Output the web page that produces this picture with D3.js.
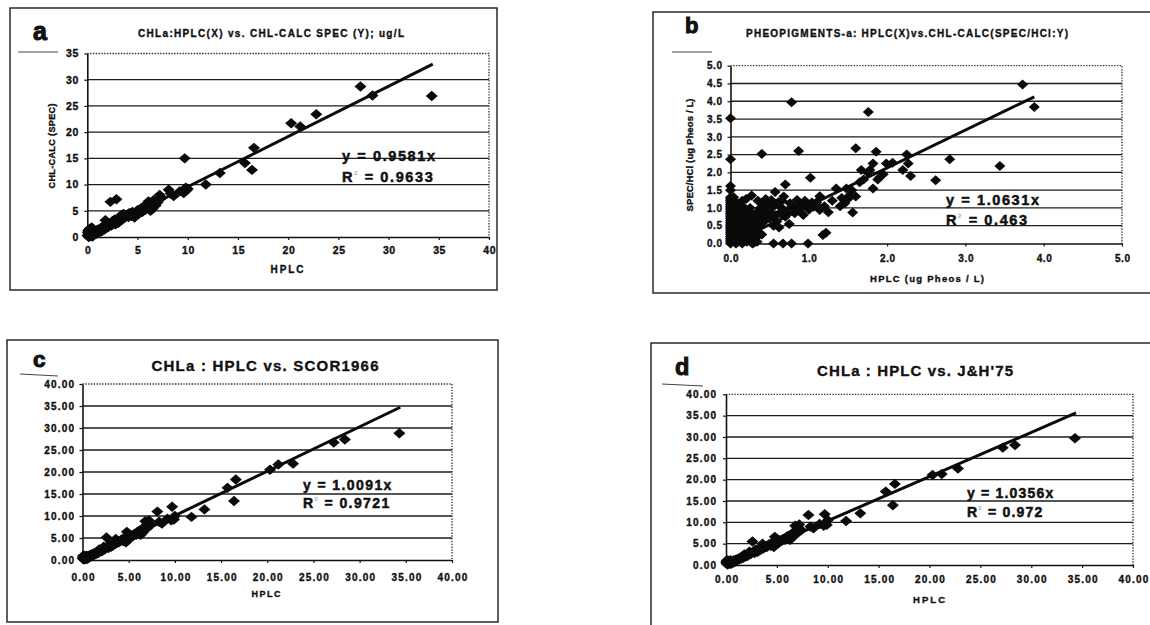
<!DOCTYPE html>
<html><head><meta charset="utf-8">
<script src="https://cdn.jsdelivr.net/npm/d3@7"></script>
<style>
body{margin:0;background:#fff;}
svg{display:block;}
text{font-family:"Liberation Sans",Arial,sans-serif;font-weight:bold;fill:#111;stroke:#111;stroke-width:0.35px;}
</style></head><body>
<script>
// ---------- DATA ----------
// Chlorophyll-a samples: HPLC (x) shared by panels a, c, d
const chlaHPLC = [
 0.02,0.05,0.08,0.10,0.12,0.15,0.20,0.25,0.30,0.35,
 0.40,0.45,0.50,0.55,0.60,0.70,0.75,0.80,0.90,1.00,
 1.05,1.10,1.20,1.30,1.40,1.50,1.60,1.70,1.80,1.90,
 2.00,2.10,2.20,2.30,2.40,2.50,2.60,2.70,2.80,2.90,
 3.00,3.10,3.20,3.30,3.40,3.50,3.60,3.70,3.80,4.00,
 4.10,4.20,4.40,4.50,4.70,4.80,4.90,5.00,5.20,5.30,
 5.50,5.60,5.80,5.90,6.00,6.10,6.30,6.40,6.50,6.60,
 6.80,7.00,7.20,7.40,8.10,8.30,8.60,9.20,9.60,9.70,
 9.80,9.90,10.0,11.8,13.2,15.7,16.4,16.6,20.3,21.2,
 22.8,27.2,28.4,34.3
];
// panel a: CHL-CALC (SPEC)
const chlaSPEC = [
 0.3,0.9,0.2,1.3,0.5,0.0,0.7,1.6,0.2,1.0,
 0.4,1.8,0.1,0.8,0.3,1.2,0.5,0.9,0.6,1.4,
 0.8,1.1,1.5,1.0,1.8,1.2,2.0,1.4,3.2,1.7,
 2.3,1.9,2.6,6.7,2.2,3.0,2.5,3.3,2.4,7.2,
 3.5,2.7,3.8,3.1,4.2,3.4,4.4,3.6,4.1,4.3,
 3.8,4.6,4.0,4.8,3.7,4.6,4.3,5.1,4.5,5.4,
 4.8,5.8,5.2,6.3,5.6,6.8,5.0,6.4,5.4,7.0,
 6.0,6.6,8.0,7.5,9.0,8.3,7.8,8.7,8.4,15.0,
 9.4,8.9,9.2,10.0,12.2,14.1,12.8,17.0,21.7,21.1,
 23.4,28.7,27.0,26.9
];
// panel c: SCOR1966
const chlaSCOR = [
 0.4,0.8,0.3,1.0,0.5,0.1,0.6,0.9,0.2,0.6,
 0.3,1.0,0.3,0.7,0.4,1.0,0.6,1.1,0.8,1.3,
 0.9,1.2,1.5,1.2,1.6,1.4,1.9,1.6,2.4,2.0,
 2.2,2.0,2.6,3.0,2.4,2.8,5.1,3.0,2.7,3.5,
 3.2,3.0,3.7,3.3,3.9,3.6,4.8,3.8,4.2,4.1,
 4.4,4.6,4.3,5.0,4.0,6.4,4.8,5.3,5.0,5.6,
 5.5,5.9,5.7,6.3,6.0,6.6,5.7,6.9,6.2,7.4,
 8.8,7.2,9.0,8.0,11.0,8.7,8.3,9.4,9.0,12.1,
 9.6,9.2,10.0,9.8,11.5,16.4,13.4,18.3,20.5,21.7,
 21.9,26.7,27.4,28.8
];
// panel d: J&H'75
const chlaJH = [
 0.5,0.9,0.3,1.1,0.6,0.1,0.7,1.0,0.3,0.6,
 0.4,1.1,0.3,0.7,0.5,1.0,0.6,1.1,0.8,1.3,
 1.0,1.2,1.5,1.3,1.7,1.5,2.0,1.7,2.5,2.0,
 2.3,2.1,2.7,3.1,2.5,2.9,5.5,3.1,2.8,3.6,
 3.3,3.1,3.8,3.4,4.0,3.7,5.0,3.9,4.3,4.2,
 4.5,4.8,4.5,5.2,4.2,6.6,5.0,5.5,5.2,5.8,
 5.7,6.1,5.9,6.5,6.2,6.8,5.9,7.1,6.4,7.6,
 9.2,7.4,9.5,8.2,11.7,9.0,8.6,9.6,9.2,11.9,
 9.9,9.4,10.5,10.3,12.1,17.2,14.0,19.0,21.1,21.3,
 22.6,27.5,28.1,29.7
];
// panel b: pheopigments [HPLC, SPEC/HCl]
const pheoPoints = [
 [0,0],[0,0.05],[0,0.1],[0,0.15],[0,0.2],[0,0.25],[0,0.3],[0,0.35],[0,0.4],[0,0.45],
 [0,0.5],[0,0.55],[0,0.6],[0,0.65],[0,0.7],[0,0.75],[0,0.8],[0,0.85],[0,0.9],[0,0.95],
 [0,1.0],[0,1.05],[0,1.1],[0,1.15],[0,1.2],[0,1.25],[0,1.3],[0,1.5],[0,1.62],[0,2.37],[0,3.52],
 [0.03,0.10],[0.03,0.50],[0.03,0.90],[0.05,0.30],[0.05,0.70],[0.05,1.10],[0.07,0.00],[0.07,0.45],
 [0.07,0.85],[0.08,0.20],[0.08,0.60],[0.10,0.05],[0.10,0.35],[0.10,0.75],[0.10,0.95],[0.12,0.50],
 [0.12,0.15],[0.13,0.90],[0.14,0.30],[0.15,0.65],[0.15,0.00],[0.16,0.45],[0.17,0.85],[0.18,0.20],
 [0.19,0.60],[0.20,0.35],[0.20,0.95],[0.21,0.05],[0.22,0.75],[0.23,0.50],[0.24,0.15],[0.25,0.90],
 [0.26,0.30],[0.27,0.65],[0.28,0.00],[0.30,0.45],[0.30,0.80],[0.32,0.20],[0.33,0.60],[0.35,0.90],
 [0.36,0.75],[0.38,1.00],[0.25,1.00],[0.20,1.25],[0.15,1.20],
 [0.04,0.25],[0.04,0.65],[0.06,0.15],[0.06,0.55],[0.06,1.00],[0.09,0.40],[0.09,0.80],[0.11,0.25],
 [0.11,0.60],[0.11,1.05],[0.13,0.05],[0.14,0.70],[0.16,0.25],[0.17,0.55],[0.18,1.00],[0.19,0.10],
 [0.21,0.45],[0.22,0.85],[0.23,0.25],[0.25,0.60],[0.26,0.05],[0.27,0.40],[0.28,0.80],[0.29,0.15],
 [0.31,0.65],[0.33,0.35],[0.34,0.05],[0.36,0.50],[0.37,0.25],[0.12,0.75],[0.08,1.15],[0.04,1.30],
 [0.27,1.35],[0.40,2.52],[0.78,3.97],[0.87,2.60],[1.02,1.85],[1.60,2.68],[1.76,3.70],[1.86,2.58],
 [0.57,1.45],[0.70,1.66],[0.68,1.32],[0.40,0.25],[0.55,0],[0.67,0],[0.78,0],[0.99,0],[0.30,0.02],
 [1.18,0.24],[1.22,0.30],[1.14,1.33],[1.25,0.88],[1.35,1.55],[1.48,1.55],[1.46,1.13],[1.56,0.87],
 [1.60,1.32],[1.65,1.72],[1.67,2.07],[1.78,2.07],[1.82,2.25],[1.82,1.55],[1.90,1.85],[1.99,2.25],
 [3.73,4.47],[3.88,3.84],[3.44,2.18],[2.80,2.37],[2.62,1.78],[2.25,2.50],[2.27,2.25],[2.30,1.90],
 [2.20,2.07],[2.07,2.27],[1.88,1.80],
 [0.40,1.13],[0.40,0.85],[0.32,0.75],[0.52,1.22],[0.61,1.16],[0.63,0.85],[0.59,0.62],[0.72,0.85],
 [0.76,1.13],[0.85,1.22],[0.87,0.94],[0.93,0.80],[0.98,1.03],[1.06,1.03],[1.10,1.16],[1.14,0.94],
 [0.55,0.50],[0.45,0.95],[0.50,0.70],[0.48,1.10],[0.65,1.00],[0.80,1.05],[0.90,1.10],[0.35,1.20],
 [0.45,1.25],[0.55,1.05],[0.70,0.75],[1.00,0.95],[1.20,1.05],[1.30,1.20],[1.42,1.28],[1.50,1.25],
 [1.55,1.50],[1.70,1.80],[1.75,2.00],[1.95,1.95],[0.62,0.45],[0.75,0.55],
 [0.42,0.60],[0.50,0.90],[0.58,0.80],[0.66,1.20],[0.74,0.95],[0.82,0.85],[0.95,1.20],[1.04,1.15],
 [1.12,1.05],[0.46,0.75],[0.52,1.00],[0.68,0.95],[0.38,0.70],[1.40,1.05],[1.52,1.35]
];
// trend lines (through origin) and R² values
const fitSlopes = [0.9581, 1.0631, 1.0091, 1.0356];
const fitR2 = ["0.9633", "0.463", "0.9721", "0.972"];
const fitXMax = [34.4, 3.88, 34.4, 34.4];
// axis ticks
const ticksChlaA_X = [0,5,10,15,20,25,30,35,40];
const ticksChlaA_Y = [0,5,10,15,20,25,30,35];
const ticksPheo = [0,0.5,1,1.5,2,2.5,3,3.5,4,4.5,5];
const ticksPheoX = [0,1,2,3,4,5];
const ticksChla40 = [0,5,10,15,20,25,30,35,40];
// texts
const panelLetters = ["a","b","c","d"];
const panelTitles = [
 "CHLa:HPLC(X) vs. CHL-CALC SPEC (Y); ug/L",
 "PHEOPIGMENTS-a: HPLC(X)vs.CHL-CALC(SPEC/HCl:Y)",
 "CHLa : HPLC vs. SCOR1966",
 "CHLa : HPLC vs. J&H'75"
];
const xTitles = ["HPLC", "HPLC (ug Pheos / L)", "HPLC", "HPLC"];
const yTitles = ["CHL-CALC (SPEC)", "SPEC/HCl (ug Pheos / L)", "", ""];

// ---------- LAYOUT ----------
const W = 1150, H = 625;
const svg = d3.select("body").append("svg").attr("width", W).attr("height", H);

const pairs = (xs, ys) => xs.map((v, i) => [v, ys[i]]);

const panels = [
 {box:[10,8,497,290], plot:[87.3,53.5,489,237], xd:[0,40], yd:[0,35], xt:ticksChlaA_X, yt:ticksChlaA_Y,
  fmt:d3.format("d"), pts:pairs(chlaHPLC, chlaSPEC), r:[6,5.2],
  letter:[33,40,25], under:[18,52,58,52], title:[271,37,10,266],
  xTitle:[287,272.5,10,33], yTitle:[52,146,9,85], tickFs:10.5, tickLs:0.6,
  yPad:6, xPad:7, eq:[342,161,181.5,14.5,1.6]},
 {box:[653,12,1165,293], plot:[730.5,65.7,1122,243.5], xd:[0,5], yd:[0,5], xt:ticksPheoX, yt:ticksPheo,
  fmt:d3.format(".1f"), pts:pheoPoints, r:[5.5,5],
  letter:[685,33,22], under:[672,52,712,52], title:[907,37,10,322],
  xTitle:[927,281.5,9.5,114], yTitle:[690,155,9.5,113], tickFs:10, tickLs:0.6,
  yPad:5.5, xPad:8.4, eq:[946,205,225,14.5,1.6]},
 {box:[7,340,498,622], plot:[82.5,384,452,560], xd:[0,40], yd:[0,40], xt:ticksChla40, yt:ticksChla40,
  fmt:d3.format(".2f"), pts:pairs(chlaHPLC, chlaSCOR), r:[6,5.2],
  letter:[33,367,22.5], under:[20,374,58,376], title:[265,370.5,15,227],
  xTitle:[266,596.5,9,29], yTitle:null, tickFs:10, tickLs:1.2,
  yPad:5.5, xPad:10.4, eq:[303,490,508,14,1.4]},
 {box:[651,343,1165,640], plot:[726,394.3,1133,565], xd:[0,40], yd:[0,40], xt:ticksChla40, yt:ticksChla40,
  fmt:d3.format(".2f"), pts:pairs(chlaHPLC, chlaJH), r:[6,5.2],
  letter:[675,375,23.5], under:[662,384,703,386], title:[915,376,15,196],
  xTitle:[929,602.5,9.5,32], yTitle:null, tickFs:10, tickLs:1.2,
  yPad:7, xPad:7.9, eq:[967,498,517,14,1.2]}
];

panels.forEach((p, i) => {
  const g = svg.append("g");
  const [bx0, by0, bx1, by1] = p.box;
  g.append("rect").attr("x", bx0).attr("y", by0).attr("width", bx1 - bx0).attr("height", by1 - by0)
    .attr("fill", "none").attr("stroke", "#1a1a1a").attr("stroke-width", 1.4);

  const x = d3.scaleLinear().domain(p.xd).range([p.plot[0], p.plot[2]]);
  const y = d3.scaleLinear().domain(p.yd).range([p.plot[3], p.plot[1]]);

  // horizontal gridlines
  g.append("g").selectAll("line")
    .data(p.yt.filter(v => v > p.yd[0] && v < p.yd[1]))
    .join("line")
    .attr("x1", x(p.xd[0])).attr("x2", x(p.xd[1]))
    .attr("y1", d => y(d)).attr("y2", d => y(d))
    .attr("stroke", "#1c1c1c").attr("stroke-width", 1.3);

  // dotted plot-area border (top & right)
  g.append("path")
    .attr("d", `M${x(p.xd[0])},${y(p.yd[1])}H${x(p.xd[1])}V${y(p.yd[0])}`)
    .attr("fill", "none").attr("stroke", "#333").attr("stroke-width", 1.3)
    .attr("stroke-dasharray", "1.4,1.4");

  // axes
  const yAxis = d3.axisLeft(y).tickValues(p.yt).tickFormat(p.fmt).tickSize(3).tickSizeOuter(0).tickPadding(p.yPad);
  const xAxis = d3.axisBottom(x).tickValues(p.xt).tickFormat(p.fmt).tickSize(3).tickSizeOuter(0).tickPadding(p.xPad);
  const gy = g.append("g").attr("transform", `translate(${x(p.xd[0])},0)`).call(yAxis);
  const gx = g.append("g").attr("transform", `translate(0,${y(p.yd[0])})`).call(xAxis);
  [gx, gy].forEach(ax => {
    ax.select(".domain").attr("stroke", "#111").attr("stroke-width", 1.6);
    ax.selectAll(".tick line").attr("stroke", "#111").attr("stroke-width", 1.2);
    ax.selectAll(".tick text").attr("fill", "#111")
      .style("font-family", '"Liberation Sans",Arial,sans-serif').style("font-weight", "bold")
      .style("font-size", p.tickFs + "px").style("letter-spacing", p.tickLs + "px");
  });
  gx.selectAll(".tick text").attr("dx", p.tickLs / 2);
  gy.selectAll(".tick text").attr("dx", p.tickLs);
  gx.attr("font-family", null).attr("font-size", null);
  gy.attr("font-family", null).attr("font-size", null);

  // points (diamonds)
  const [rx, ry] = p.r;
  g.append("g").selectAll("path")
    .data(p.pts)
    .join("path")
    .attr("d", d => `M${x(d[0])},${y(d[1]) - ry}L${x(d[0]) + rx},${y(d[1])}L${x(d[0])},${y(d[1]) + ry}L${x(d[0]) - rx},${y(d[1])}Z`)
    .attr("fill", "#0a0a0a");

  // trend line
  const xm = fitXMax[i];
  g.append("line")
    .attr("x1", x(0)).attr("y1", y(0))
    .attr("x2", x(xm)).attr("y2", y(fitSlopes[i] * xm))
    .attr("stroke", "#0a0a0a").attr("stroke-width", 3);

  // equation
  const [ex, ey1, ey2, efs, els] = p.eq;
  g.append("text").attr("x", ex).attr("y", ey1)
    .style("font-size", efs + "px").style("letter-spacing", els + "px").style("stroke-width", "0.5px")
    .text(`y = ${fitSlopes[i].toFixed(4).replace(/0+$/, "")}x`);
  const rt = g.append("text").attr("x", ex).attr("y", ey2)
    .style("font-size", efs + "px").style("letter-spacing", els + "px").style("stroke-width", "0.5px");
  rt.append("tspan").text("R");
  rt.append("tspan").attr("dy", -7).style("font-size", "6px").style("stroke", "none").attr("fill", "#aaa").text("2");
  rt.append("tspan").attr("dy", 7).text(` = ${fitR2[i]}`);

  // panel letter
  const [lx, ly, lfs] = p.letter;
  g.append("text").attr("x", lx).attr("y", ly).style("font-size", lfs + "px").style("stroke-width", "1px").text(panelLetters[i]);
  const [u1, v1, u2, v2] = p.under;
  g.append("line").attr("x1", u1).attr("y1", v1).attr("x2", u2).attr("y2", v2)
    .attr("stroke", "#444").attr("stroke-width", 1);

  // title
  const [tx, ty, tfs, tw] = p.title;
  g.append("text").attr("x", tx).attr("y", ty).attr("text-anchor", "middle")
    .style("font-size", tfs + "px").attr("textLength", tw).attr("lengthAdjust", "spacing")
    .text(panelTitles[i]);

  // axis titles
  const [xtx, xty, xtfs, xtw] = p.xTitle;
  g.append("text").attr("x", xtx).attr("y", xty).attr("text-anchor", "middle")
    .style("font-size", xtfs + "px").attr("textLength", xtw).attr("lengthAdjust", "spacing")
    .text(xTitles[i]);
  if (p.yTitle) {
    const [ytx, yty, ytfs, ytw] = p.yTitle;
    g.append("text").attr("transform", `translate(${ytx},${yty}) rotate(-90)`)
      .attr("text-anchor", "middle").attr("dy", "0.35em")
      .style("font-size", ytfs + "px").attr("textLength", ytw).attr("lengthAdjust", "spacing")
      .text(yTitles[i]);
  }
});
</script>
</body></html>
